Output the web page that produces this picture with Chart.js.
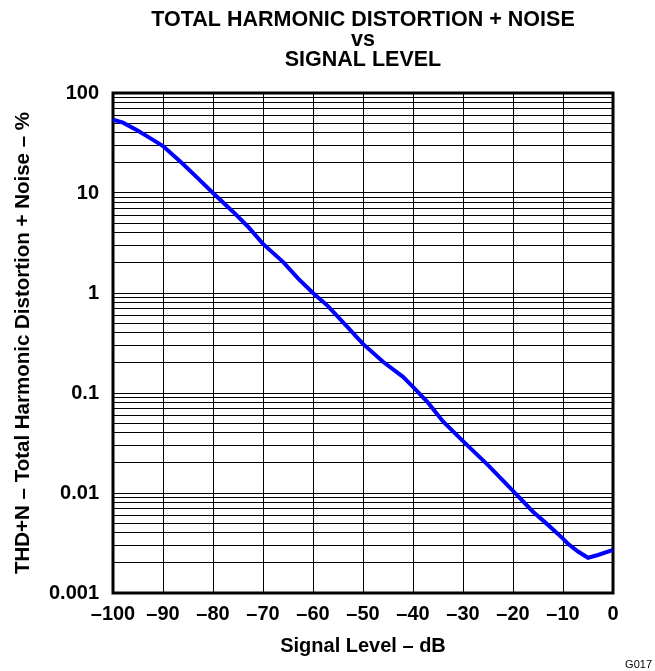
<!DOCTYPE html>
<html>
<head>
<meta charset="utf-8">
<title>THD+N vs Signal Level</title>
<script src="https://cdn.jsdelivr.net/npm/chart.js@4.4.0/dist/chart.umd.min.js"></script>
<style>
  html, body { margin: 0; padding: 0; background: #ffffff; }
  #thdChart { display: block; }
</style>
</head>
<body>
<canvas id="thdChart" width="655" height="671"></canvas>
<script>
const signalLevel = [-100, -98, -95, -92, -90, -86, -83, -80, -76, -73, -70, -66, -63, -60, -57, -53, -50,
    -46, -42, -40, -37, -34, -30, -25, -20, -16, -13, -10, -9, -7, -5, -3, 0];
const thdNoise = [54, 50.5, 42, 34, 29.5, 19.5, 14, 10, 6.5, 4.6, 3.1, 2.05, 1.4, 1.0, 0.74, 0.45, 0.31,
    0.205, 0.145, 0.115, 0.08, 0.052, 0.033, 0.019, 0.0105, 0.0065, 0.0048, 0.0035, 0.0031, 0.0026, 0.00225, 0.0024, 0.0027];

const xTicks = [-100, -90, -80, -70, -60, -50, -40, -30, -20, -10, 0];
const xTickLabels = ['\u2013100', '\u201390', '\u201380', '\u201370', '\u201360', '\u201350', '\u201340', '\u201330', '\u201320', '\u201310', '0'];
const yDecades = [0.001, 0.01, 0.1, 1, 10, 100];
const yDecadeLabels = ['0.001', '0.01', '0.1', '1', '10', '100'];

const titleLines = ['TOTAL HARMONIC DISTORTION + NOISE', 'vs', 'SIGNAL LEVEL'];
const xTitle = 'Signal Level \u2013 dB';
const yTitle = 'THD+N \u2013 Total Harmonic Distortion + Noise \u2013 %';
const figureCode = 'G017';

const FONT = "'Liberation Sans', Arial, Helvetica, sans-serif";

// log grid: 1..9 in every decade, labels only on the decades
const yGridTicks = [];
yDecades.forEach(function (d, i) {
    yGridTicks.push({ value: d, label: yDecadeLabels[i] });
    if (i < yDecades.length - 1) {
        for (let k = 2; k <= 9; k++) {
            yGridTicks.push({ value: d * k, label: '' });
        }
    }
});

const points = signalLevel.map((x, i) => ({ x: x, y: thdNoise[i] }));

const framePlugin = {
    id: 'frame',
    beforeDatasetsDraw(chart) {
        const a = chart.chartArea;
        const ctx = chart.ctx;
        ctx.save();
        ctx.strokeStyle = '#000000';
        ctx.lineWidth = 3;
        ctx.strokeRect(a.left, a.top, a.right - a.left, a.bottom - a.top);
        ctx.restore();
    },
    afterDraw(chart) {
        const a = chart.chartArea;
        const ctx = chart.ctx;
        const cx = (a.left + a.right) / 2;
        ctx.save();
        ctx.fillStyle = '#000000';
        ctx.textAlign = 'center';
        ctx.textBaseline = 'alphabetic';
        ctx.font = 'bold 21.5px ' + FONT;
        ctx.fillText(titleLines[0], cx, 26);
        ctx.fillText(titleLines[1], cx, 46);
        ctx.fillText(titleLines[2], cx, 66);
        ctx.font = '11px ' + FONT;
        ctx.textAlign = 'right';
        ctx.fillText(figureCode, 652, 668);
        ctx.restore();
    }
};

const ctx = document.getElementById('thdChart').getContext('2d');
const thdChart = new Chart(ctx, {
    type: 'scatter',
    data: {
        datasets: [{
            data: points,
            showLine: true,
            borderColor: '#0000ff',
            backgroundColor: '#0000ff',
            borderWidth: 4,
            pointRadius: 0,
            tension: 0
        }]
    },
    options: {
        responsive: false,
        animation: false,
        layout: { padding: { top: 93, right: 42, left: 0, bottom: 0 } },
        plugins: {
            legend: { display: false },
            tooltip: { enabled: false },
            title: { display: false }
        },
        scales: {
            x: {
                type: 'linear',
                min: -100,
                max: 0,
                afterBuildTicks: function (scale) {
                    scale.ticks = xTicks.map(v => ({ value: v }));
                },
                afterFit: function (scale) { scale.height = 78; },
                grid: { color: '#000000', lineWidth: 1, drawTicks: false },
                border: { display: false },
                ticks: {
                    autoSkip: false,
                    maxRotation: 0,
                    padding: 9,
                    color: '#000000',
                    font: { family: FONT, size: 20, weight: 'bold' },
                    callback: (v, i) => xTickLabels[i]
                },
                title: {
                    display: true,
                    text: xTitle,
                    color: '#000000',
                    padding: { top: 0, bottom: 13 },
                    font: { family: FONT, size: 20, weight: 'bold' }
                }
            },
            y: {
                type: 'logarithmic',
                min: 0.001,
                max: 100,
                afterBuildTicks: function (scale) {
                    scale.ticks = yGridTicks.map(t => ({ value: t.value }));
                },
                afterFit: function (scale) { scale.width = 113; },
                grid: { color: '#000000', lineWidth: 1, drawTicks: false },
                border: { display: false },
                ticks: {
                    autoSkip: false,
                    padding: 14,
                    color: '#000000',
                    font: { family: FONT, size: 20, weight: 'bold' },
                    callback: (v, i) => yGridTicks[i].label
                },
                title: {
                    display: true,
                    text: yTitle,
                    color: '#000000',
                    padding: { top: 11, bottom: 0 },
                    font: { family: FONT, size: 20.5, weight: 'bold' }
                }
            }
        }
    },
    plugins: [framePlugin]
});
</script>
</body>
</html>
